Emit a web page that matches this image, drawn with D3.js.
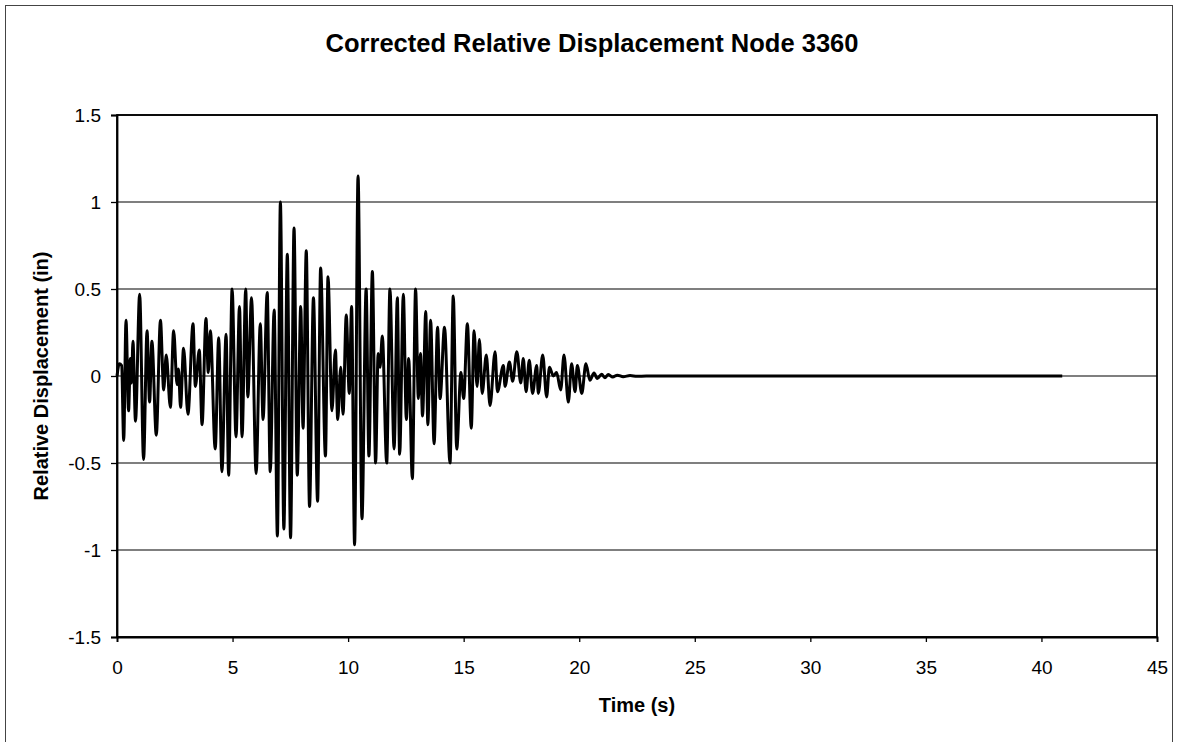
<!DOCTYPE html>
<html>
<head>
<meta charset="utf-8">
<script src="https://cdn.jsdelivr.net/npm/d3@7/dist/d3.min.js"></script>
<style>
  html, body { margin: 0; padding: 0; background: #fff; }
  svg { display: block; font-family: "Liberation Sans", Arial, sans-serif; }
</style>
</head>
<body>
<svg id="chart" width="1179" height="742"></svg>
<script>
// ---- data (extrema, time in s, displacement in in) ----
const times = [
  0.00, 0.10, 0.20, 0.29, 0.39, 0.50, 0.58, 0.63, 0.69, 0.80,
  0.98, 1.15, 1.30, 1.41, 1.51, 1.70, 1.88, 2.02, 2.13, 2.31,
  2.45, 2.60, 2.66, 2.75, 2.88, 3.07, 3.29, 3.39, 3.56, 3.68,
  3.85, 3.95, 4.04, 4.25, 4.40, 4.54, 4.72, 4.83, 4.98, 5.15,
  5.30, 5.41, 5.57, 5.66, 5.82, 6.02, 6.20, 6.32, 6.50, 6.63,
  6.80, 6.94, 7.07, 7.22, 7.37, 7.51, 7.66, 7.80, 7.95, 8.05,
  8.19, 8.33, 8.50, 8.68, 8.81, 9.02, 9.13, 9.30, 9.45, 9.55,
  9.68, 9.78, 9.92, 10.05, 10.15, 10.28, 10.43, 10.60, 10.78, 10.90,
  11.05, 11.19, 11.30, 11.38, 11.48, 11.67, 11.81, 11.99, 12.13, 12.23,
  12.39, 12.52, 12.62, 12.78, 12.92, 13.04, 13.13, 13.22, 13.36, 13.45,
  13.57, 13.72, 13.87, 13.98, 14.17, 14.41, 14.55, 14.70, 14.88, 15.00,
  15.16, 15.33, 15.45, 15.58, 15.68, 15.80, 15.98, 16.14, 16.36, 16.46,
  16.72, 16.79, 16.98, 17.12, 17.30, 17.47, 17.58, 17.70, 17.84, 17.98,
  18.16, 18.23, 18.42, 18.59, 18.71, 18.88, 19.02, 19.20, 19.34, 19.53,
  19.67, 19.82, 19.92, 20.11, 20.29, 20.46, 20.64, 20.78, 20.97, 21.11,
  21.26, 21.45, 21.65, 21.90, 22.20, 22.50, 22.90, 40.90
];
const displacement = [
  0.00, 0.07, 0.06, -0.37, 0.32, -0.20, 0.10, -0.04, 0.20, -0.26,
  0.47, -0.48, 0.26, -0.15, 0.20, -0.34, 0.32, -0.08, 0.12, -0.18,
  0.26, -0.05, 0.04, -0.18, 0.16, -0.22, 0.30, -0.06, 0.15, -0.28,
  0.33, 0.02, 0.26, -0.42, 0.22, -0.55, 0.24, -0.57, 0.50, -0.35,
  0.40, -0.35, 0.50, -0.12, 0.45, -0.56, 0.30, -0.25, 0.48, -0.55,
  0.38, -0.92, 1.00, -0.88, 0.70, -0.93, 0.85, -0.57, 0.40, -0.30,
  0.72, -0.75, 0.45, -0.72, 0.62, -0.46, 0.57, -0.20, 0.15, -0.25,
  0.05, -0.22, 0.35, -0.10, 0.40, -0.97, 1.15, -0.82, 0.50, -0.46,
  0.60, -0.50, 0.13, 0.05, 0.23, -0.50, 0.50, -0.42, 0.45, -0.45,
  0.47, -0.25, 0.10, -0.59, 0.50, -0.13, 0.13, -0.23, 0.37, -0.28,
  0.32, -0.39, 0.28, -0.13, 0.28, -0.50, 0.46, -0.42, 0.02, -0.13,
  0.30, -0.30, 0.26, -0.06, 0.21, -0.10, 0.12, -0.17, 0.14, -0.09,
  0.06, -0.06, 0.08, -0.03, 0.14, -0.04, 0.10, -0.09, 0.09, -0.10,
  0.06, -0.10, 0.12, -0.12, 0.05, 0.00, 0.02, -0.08, 0.12, -0.15,
  0.07, -0.09, 0.06, -0.10, 0.07, -0.025, 0.017, -0.015, 0.01, -0.01,
  0.008, -0.006, 0.005, -0.004, 0.003, -0.002, 0.00, 0.00
];
const xTicks = [0, 5, 10, 15, 20, 25, 30, 35, 40, 45];
const xTickLabels = ["0", "5", "10", "15", "20", "25", "30", "35", "40", "45"];
const yTicks = [-1.5, -1, -0.5, 0, 0.5, 1, 1.5];
const yTickLabels = ["-1.5", "-1", "-0.5", "0", "0.5", "1", "1.5"];
const titleText = "Corrected Relative Displacement Node 3360";
const xTitle = "Time (s)";
const yTitle = "Relative Displacement (in)";

// ---- layout ----
const L = 117, R = 1157, T = 115, B = 637;
const svg = d3.select("#chart");

// outer frame
svg.append("rect").attr("x", 5.5).attr("y", 5.5).attr("width", 1167).attr("height", 740)
  .attr("fill", "none").attr("stroke", "#444").attr("stroke-width", 1);

const x = d3.scaleLinear().domain([0, 45]).range([L, R]);
const y = d3.scaleLinear().domain([-1.5, 1.5]).range([B, T]);

// gridlines
svg.append("g").selectAll("line").data(yTicks).join("line")
  .attr("x1", L).attr("x2", R)
  .attr("y1", d => y(d)).attr("y2", d => y(d))
  .attr("stroke", "#000").attr("stroke-width", 1.1);

// series
const pts = times.map((t, i) => [t, displacement[i]]);
const line = d3.line().x(d => x(d[0])).y(d => y(d[1])).curve(d3.curveMonotoneX);
svg.append("path").datum(pts).attr("d", line)
  .attr("fill", "none").attr("stroke", "#000").attr("stroke-width", 3)
  .attr("stroke-linejoin", "round");

// plot border
svg.append("rect").attr("x", L).attr("y", T).attr("width", R - L).attr("height", B - T)
  .attr("fill", "none").attr("stroke", "#000").attr("stroke-width", 1.8);

// axes
const yAxis = d3.axisLeft(y).tickValues(yTicks).tickSize(6).tickPadding(10)
  .tickFormat((d, i) => yTickLabels[i]);
const gy = svg.append("g").attr("transform", `translate(${L},0)`).call(yAxis);
gy.select(".domain").attr("stroke", "#000").attr("stroke-width", 1.8);
gy.selectAll(".tick line").attr("stroke", "#000").attr("stroke-width", 1.3);
gy.selectAll(".tick text").attr("fill", "#000")
  .style("font-family", '"Liberation Sans", Arial, sans-serif').style("font-size", "19px");

const xAxis = d3.axisBottom(x).tickValues(xTicks).tickSize(5).tickPadding(19)
  .tickFormat((d, i) => xTickLabels[i]);
const gx = svg.append("g").attr("transform", `translate(0,${B})`).call(xAxis);
gx.select(".domain").attr("stroke", "#000").attr("stroke-width", 1.8);
gx.selectAll(".tick line").attr("stroke", "#000").attr("stroke-width", 1.3);
gx.selectAll(".tick text").attr("fill", "#000")
  .style("font-family", '"Liberation Sans", Arial, sans-serif').style("font-size", "19px");

// titles
svg.append("text").attr("x", 592).attr("y", 52).attr("text-anchor", "middle")
  .style("font-size", "25.5px").style("font-weight", "bold").text(titleText);
svg.append("text").attr("x", 637).attr("y", 712).attr("text-anchor", "middle")
  .style("font-size", "20px").style("font-weight", "bold").text(xTitle);
svg.append("text").attr("transform", "translate(48,376) rotate(-90)").attr("text-anchor", "middle")
  .style("font-size", "20px").style("font-weight", "bold").text(yTitle);
</script>
</body>
</html>
